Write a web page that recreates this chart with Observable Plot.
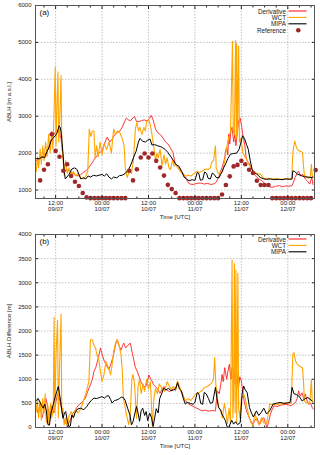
<!DOCTYPE html>
<html><head><meta charset="utf-8">
<script src="https://cdn.jsdelivr.net/npm/d3@7"></script>
<script src="https://cdn.jsdelivr.net/npm/@observablehq/plot@0.6"></script>
<style>
body{margin:0;background:#fff;font-family:"Liberation Sans",Arial,sans-serif;}
#wrap{position:relative;width:320px;height:455px;overflow:hidden;}
#wrap > svg{display:block;}
#leg{position:absolute;left:0;top:0;width:320px;height:455px;pointer-events:none;}
</style></head><body><div id="wrap"></div>
<script>
// ---- ticks / labels ----
const xDomain = [6.8, 78.9]; // hours since 00:00 09/07 UTC
const xTickHours = [12, 24, 36, 48, 60, 72];
const xTickLabels = ["12:00\n09/07", "00:00\n10/07", "12:00\n10/07", "00:00\n11/07", "12:00\n11/07", "00:00\n12/07"];
const xMinorHours = [9, 15, 18, 21, 27, 30, 33, 39, 42, 45, 51, 54, 57, 63, 66, 69, 75, 78];
const yTicksA = [1000, 2000, 3000, 4000, 5000, 6000];
const yTicksB = [0, 500, 1000, 1500, 2000, 2500, 3000, 3500, 4000];
const seriesNames = ["Derivative", "WCT", "MIPA", "Reference"];
const seriesColors = ["#ff2020", "#ffa500", "#000000", "#a0282a"];

// ---- panel (a): ABLH [m a.s.l.]  ([hour, value]) ----
const derivA = [[7.0,1800],[8.0,1850],[9.0,1900],[10.0,2100],[10.8,2350],[11.5,2500],[12.2,2600],[12.8,2650],[13.4,2400],[13.9,1900],[14.3,1500],[15.0,1550],[15.8,1500],[16.5,1450],[17.2,1400],[17.8,1380],[18.5,1420],[19.2,1480],[19.8,1520],[20.5,1600],[21.2,1700],[21.8,1800],[22.5,1900],[23.2,2000],[24.0,2060],[24.6,2250],[25.3,2430],[26.0,2300],[26.6,2380],[27.3,2500],[27.9,2560],[28.6,2600],[29.2,2700],[29.8,2850],[30.3,2950],[30.8,2900],[31.4,2880],[31.9,2950],[32.4,2990],[32.9,2860],[33.5,2850],[34.2,2880],[34.9,2900],[35.6,2870],[36.2,2940],[36.7,3020],[37.2,2900],[37.8,2650],[38.4,2550],[39.1,2500],[39.8,2400],[40.4,2300],[41.0,2250],[41.6,2150],[42.3,2020],[43.0,1680],[43.8,1600],[44.5,1500],[45.1,1430],[45.8,1300],[46.4,1180],[46.8,1160],[47.6,1150],[48.5,1180],[49.5,1190],[50.4,1160],[51.2,1180],[52.2,1150],[53.0,1170],[53.4,1200],[54.1,1340],[54.6,1500],[55.0,1610],[55.4,1750],[55.7,1880],[56.0,2100],[56.2,2150],[56.5,1950],[56.7,2510],[57.0,2250],[57.3,2600],[57.6,2700],[58.0,2300],[58.3,2500],[58.6,2200],[59.0,2600],[59.3,2870],[59.7,2950],[60.1,2700],[60.5,2420],[60.9,2200],[61.2,1900],[61.5,1790],[62.0,1720],[62.8,1550],[63.5,1400],[64.5,1300],[65.3,1250],[66.2,1160],[67.0,1100],[67.9,1070],[68.8,1100],[69.8,1120],[70.6,1090],[71.5,1110],[72.3,1100],[73.1,1120],[73.6,1250],[73.9,1340],[74.4,1450],[74.8,1510],[75.3,1380],[75.8,1430],[76.5,1300],[77.0,1250],[77.7,1160],[78.2,1340],[78.5,1150]];
const wctA = [[7.0,1500],[7.3,1900],[7.6,1600],[8.0,2100],[8.3,1700],[8.7,2200],[9.0,1800],[9.4,2300],[9.8,1900],[10.2,2500],[10.6,2000],[11.0,2600],[11.3,2100],[11.6,3100],[11.9,4330],[12.1,2200],[12.4,3500],[12.6,4200],[12.8,2300],[13.1,3000],[13.4,4100],[13.6,2200],[13.9,1900],[14.2,1400],[14.6,1800],[15.0,1450],[15.5,1600],[16.0,1400],[16.6,1500],[17.2,1380],[17.8,1450],[18.5,1330],[19.2,1300],[19.8,1380],[20.3,1500],[20.7,2650],[21.1,2450],[21.5,2600],[21.9,2600],[22.2,1880],[22.6,2200],[23.0,1900],[23.5,2300],[24.0,1950],[24.5,2250],[25.2,2100],[25.8,2300],[26.4,2000],[27.0,2650],[27.5,2500],[28.0,2600],[28.6,2550],[29.2,2400],[29.7,2200],[30.0,1600],[30.5,1340],[31.0,1500],[31.6,1450],[32.1,1800],[32.6,2650],[33.0,2830],[33.4,2600],[33.8,2700],[34.3,2500],[34.8,2700],[35.2,2600],[35.5,2850],[36.1,2900],[36.5,2750],[36.9,2500],[37.4,2150],[37.8,1800],[38.2,2000],[38.5,1870],[39.0,2100],[39.5,1650],[40.0,1950],[40.4,1700],[40.8,1870],[41.3,1600],[41.7,1550],[42.2,1800],[42.6,1650],[43.0,1700],[43.6,1600],[44.3,1500],[45.0,1420],[45.5,1370],[46.2,1400],[47.0,1380],[47.8,1450],[48.5,1500],[49.2,1480],[50.0,1520],[50.7,1570],[51.5,1560],[52.0,1600],[52.3,1750],[52.8,1800],[53.3,2200],[53.5,1600],[54.0,1450],[54.6,1450],[55.2,1500],[55.7,1800],[56.2,2150],[56.7,2400],[57.2,2600],[57.7,5030],[57.9,2600],[58.2,2500],[58.5,5050],[58.7,2400],[58.8,4960],[59.0,2500],[59.3,4900],[59.5,2300],[59.9,2400],[60.4,2000],[60.9,1900],[61.3,1850],[61.9,1700],[62.5,1600],[63.2,1500],[63.9,1450],[64.9,1430],[65.5,1350],[66.2,1300],[67.0,1320],[68.0,1300],[69.0,1310],[70.0,1290],[71.0,1300],[72.0,1310],[73.0,1300],[73.3,2000],[73.5,2150],[73.8,2330],[74.1,2200],[74.5,2100],[74.9,2060],[75.3,2050],[75.8,2020],[76.1,1600],[76.3,1400],[76.8,1350],[77.3,1320],[77.8,1350],[78.1,1700],[78.3,1400],[78.5,1350]];
const mipaA = [[7.0,1850],[7.8,1850],[8.5,1900],[9.2,1880],[9.8,2050],[10.3,2150],[10.8,2330],[11.3,2400],[11.9,2470],[12.4,2550],[12.9,2740],[13.2,2700],[13.5,2500],[13.9,2000],[14.2,1520],[14.5,1300],[14.9,1350],[15.5,1430],[16.2,1570],[16.9,1600],[17.5,1560],[18.0,1430],[18.5,1300],[19.2,1330],[19.8,1300],[20.4,1380],[21.0,1350],[21.8,1400],[22.5,1380],[23.2,1400],[24.0,1420],[24.6,1380],[25.2,1440],[25.8,1350],[26.4,1300],[27.0,1350],[27.8,1330],[28.5,1390],[29.2,1400],[30.0,1450],[30.8,1540],[31.5,1700],[32.2,1900],[32.8,2050],[33.4,2300],[33.8,2400],[34.5,2320],[35.2,2300],[35.8,2350],[36.4,2380],[36.9,2220],[37.6,2230],[38.3,2200],[39.0,2180],[39.6,2150],[40.3,2100],[41.0,2020],[41.8,1900],[42.5,1790],[43.0,1700],[43.9,1640],[44.6,1500],[45.2,1350],[45.8,1300],[46.5,1250],[47.3,1280],[48.0,1260],[48.6,1475],[49.0,1450],[49.4,1265],[50.0,1280],[50.5,1490],[51.0,1450],[51.4,1320],[52.0,1300],[52.5,1460],[53.0,1420],[53.5,1340],[54.2,1330],[54.8,1450],[55.4,1600],[55.9,1700],[56.5,1850],[57.2,1970],[58.0,1990],[58.8,2000],[59.4,2100],[60.0,2330],[60.3,2470],[60.8,2400],[61.3,2240],[61.8,2100],[62.3,1790],[62.8,1550],[63.2,1475],[64.0,1430],[64.9,1340],[65.8,1300],[66.5,1290],[67.5,1300],[68.5,1280],[69.5,1290],[70.5,1280],[71.5,1300],[72.5,1290],[73.1,1300],[73.3,1520],[73.8,1500],[74.5,1430],[75.5,1390],[76.3,1360],[77.2,1350],[78.0,1340],[78.5,1350]];
const refA = [[8,1260],[9,1550],[10,1700],[11,2510],[12,2060],[13,1900],[14,1520],[15,1700],[16,1380],[17,1225],[18,1110],[19,920],[20,800],[21,780],[22,780],[23,780],[24,780],[25,780],[26,780],[27,780],[28,780],[29,780],[30,780],[31,1520],[32,1260],[33,1560],[34,1880],[35,1990],[36,1880],[37,1990],[38,1790],[39,1610],[40,1390],[41,1140],[42,1025],[43,920],[44,780],[45,780],[46,780],[47,780],[48,780],[49,780],[50,780],[51,780],[52,780],[53,780],[54,780],[55,880],[56,1135],[57,1370],[58,1640],[59,1680],[60,1790],[61,1700],[62,1550],[63,1460],[64,1250],[65,1135],[66,1135],[67,1135],[68,780],[69,780],[70,780],[71,780],[72,780],[73,780],[74,780],[75,780],[76,780],[77,780],[78,780],[79.2,1540]];

// ---- panel (b): ABLH Difference [m] ----
const derivB = [[7.0,400],[7.5,300],[8.0,500],[8.5,200],[9.0,350],[9.5,600],[10.0,400],[10.5,250],[11.0,450],[11.5,300],[12.0,500],[12.5,700],[13.0,600],[13.5,400],[14.0,200],[14.5,100],[15.0,50],[15.5,100],[16.0,200],[16.5,300],[17.0,350],[17.5,420],[18.0,470],[18.8,520],[19.7,610],[20.3,750],[21.0,885],[21.5,1000],[21.9,1160],[22.4,1250],[22.8,1370],[23.2,1500],[23.6,1650],[24.0,1520],[24.6,1370],[25.2,1280],[25.75,1200],[26.2,1300],[26.8,1450],[27.2,1600],[27.5,1720],[27.9,1820],[28.4,1700],[28.9,1600],[29.3,1700],[29.6,1750],[30.1,1650],[30.6,1700],[31.3,1750],[31.8,1550],[32.2,1400],[32.6,1250],[33.1,1160],[33.6,1050],[34.0,955],[34.4,900],[34.8,850],[35.3,850],[35.7,950],[36.1,1090],[36.6,1000],[37.0,950],[37.3,885],[37.8,850],[38.3,800],[39.0,710],[39.5,800],[40.0,850],[40.6,780],[41.4,745],[42.0,780],[42.5,800],[43.0,830],[43.6,900],[44.2,800],[44.8,690],[45.5,560],[46.4,485],[47.2,450],[48.1,415],[49.0,380],[49.8,345],[50.6,360],[51.4,340],[52.3,350],[53.3,345],[53.8,760],[54.3,700],[54.7,900],[55.0,1100],[55.3,950],[55.7,1240],[56.2,1000],[56.5,1150],[56.9,1310],[57.3,1000],[57.6,1250],[58.0,1200],[58.4,900],[58.8,1150],[59.2,800],[59.6,1050],[60.0,965],[60.4,750],[60.7,550],[61.0,450],[61.3,345],[61.8,250],[62.2,170],[62.6,120],[63.0,70],[63.5,150],[64.0,200],[64.4,120],[64.8,70],[65.3,180],[65.8,200],[66.2,100],[66.6,0],[67.0,100],[67.5,275],[68.0,380],[68.4,450],[69.2,430],[70.0,460],[70.7,470],[71.4,480],[72.2,470],[72.8,450],[73.4,480],[74.0,520],[74.4,600],[74.8,760],[75.2,650],[75.7,720],[76.1,600],[76.5,690],[77.0,550],[77.4,480],[77.9,500],[78.3,415],[78.6,380]];
const wctB = [[7.0,330],[7.3,600],[7.6,200],[8.0,540],[8.3,150],[8.7,600],[9.0,300],[9.3,700],[9.6,100],[10.0,450],[10.3,50],[10.7,500],[11.0,200],[11.4,400],[11.6,2290],[11.8,300],[12.1,1500],[12.5,2220],[12.7,200],[13.0,1200],[13.4,2350],[13.6,300],[13.9,400],[14.2,55],[14.6,200],[15.0,30],[15.5,250],[16.0,330],[16.6,200],[17.2,380],[17.8,300],[18.6,400],[19.4,610],[20.0,750],[20.6,955],[21.0,1820],[21.5,1820],[21.9,1700],[22.3,1650],[22.7,1500],[23.1,1440],[23.5,1200],[24.0,955],[24.5,1100],[25.0,1370],[25.6,1250],[26.2,1090],[26.6,1300],[27.0,1580],[27.5,1750],[27.9,1820],[28.4,1700],[28.9,1510],[29.2,1200],[29.5,610],[30.0,400],[30.5,190],[30.9,60],[31.3,300],[31.7,1000],[32.0,1100],[32.4,900],[32.9,190],[33.3,850],[33.7,1000],[34.1,700],[34.6,900],[35.0,750],[35.5,1000],[36.0,800],[36.5,950],[37.0,20],[37.4,600],[37.8,800],[38.3,700],[38.8,900],[39.5,815],[40.2,750],[40.8,950],[41.2,885],[41.8,800],[42.5,850],[43.0,760],[43.5,965],[44.0,850],[44.6,700],[45.5,550],[46.2,600],[47.0,560],[48.1,690],[49.0,720],[49.8,760],[50.4,830],[51.2,850],[52.0,900],[52.4,930],[52.8,1000],[53.1,1450],[53.4,900],[53.8,600],[54.2,400],[54.7,345],[55.1,200],[55.6,500],[56.0,300],[56.4,80],[56.8,400],[57.2,100],[57.6,3470],[57.8,200],[58.0,600],[58.2,3400],[58.4,300],[58.6,3265],[58.8,100],[59.1,3195],[59.3,400],[59.6,200],[60.0,600],[60.6,690],[61.0,600],[61.5,400],[62.0,210],[62.5,100],[63.0,35],[63.5,300],[64.0,150],[64.6,50],[65.2,200],[65.8,100],[66.5,80],[67.0,300],[67.3,485],[68.0,480],[69.0,470],[70.0,490],[71.0,500],[72.2,520],[72.9,500],[73.3,1520],[73.6,1550],[74.0,1380],[74.4,1320],[74.8,1280],[75.3,1260],[75.8,1240],[76.1,900],[76.3,550],[76.8,520],[77.3,500],[77.7,520],[78.1,1000],[78.3,550],[78.5,520]];
const mipaB = [[7.0,560],[7.5,600],[8.0,520],[8.4,450],[8.8,400],[9.2,480],[9.6,350],[10.0,60],[10.4,50],[10.8,300],[11.3,450],[11.8,610],[12.3,750],[12.7,850],[13.0,700],[13.3,540],[13.6,350],[13.9,190],[14.3,300],[14.6,330],[15.0,150],[15.4,20],[15.8,30],[16.2,260],[16.6,200],[17.0,300],[17.6,380],[18.4,400],[19.3,370],[20.0,430],[20.6,500],[21.2,560],[21.9,610],[22.6,600],[23.3,620],[24.0,640],[24.6,610],[25.2,650],[25.7,660],[26.2,580],[26.6,505],[27.2,560],[27.8,570],[28.5,600],[29.0,630],[29.5,620],[30.0,560],[30.6,400],[31.2,260],[31.6,55],[32.0,120],[32.5,300],[32.9,435],[33.3,300],[33.7,130],[34.1,350],[34.5,400],[35.0,250],[35.4,330],[35.8,140],[36.3,300],[36.8,200],[37.2,20],[37.6,200],[38.0,390],[38.5,300],[38.9,600],[39.4,700],[39.9,815],[40.5,780],[41.2,815],[41.8,760],[42.5,780],[43.0,795],[43.5,930],[44.0,800],[44.5,760],[45.0,600],[45.5,485],[46.0,520],[46.8,500],[47.5,480],[48.0,520],[48.6,725],[49.0,700],[49.5,500],[50.0,480],[50.4,725],[50.9,700],[51.5,600],[52.0,500],[52.6,520],[53.3,830],[53.7,600],[54.1,415],[54.6,370],[55.0,275],[55.5,200],[55.9,140],[56.3,20],[56.7,0],[57.5,150],[58.0,70],[58.5,120],[59.0,60],[59.7,100],[60.2,700],[60.6,860],[61.0,780],[61.5,725],[62.1,415],[62.6,300],[63.1,220],[63.9,345],[64.5,250],[65.2,320],[65.8,400],[66.5,280],[67.3,345],[68.2,485],[69.0,500],[70.0,520],[71.0,500],[72.0,510],[72.6,520],[73.1,830],[73.6,700],[74.3,680],[75.0,640],[75.7,550],[76.5,600],[77.2,620],[78.3,550]];

const fmtX = d => xTickLabels[xTickHours.indexOf(d)];
const fmtY = d => String(d);
const X = d => d[0], Y = d => d[1];

function panel({height, marginTop, marginBottom, yDomain, yTicks, yLabel, tag, deriv, wct, mipa, ref}) {
  return Plot.plot({
    width: 320, height, marginTop, marginBottom, marginLeft: 35, marginRight: 6,
    style: {fontFamily: "'Liberation Sans', Arial, sans-serif", fontSize: "6px", background: "white", color: "#222"},
    x: {domain: xDomain},
    y: {domain: yDomain},
    marks: [
      Plot.gridX(xTickHours, {stroke: "#888", strokeOpacity: 0.5, strokeDasharray: "1.5,1.5"}),
      Plot.gridY(yTicks, {stroke: "#888", strokeOpacity: 0.5, strokeDasharray: "1.5,1.5"}),
      Plot.line(deriv, {x: X, y: Y, stroke: seriesColors[0], strokeWidth: 0.9}),
      Plot.line(wct, {x: X, y: Y, stroke: seriesColors[1], strokeWidth: 1.1}),
      Plot.line(mipa, {x: X, y: Y, stroke: seriesColors[2], strokeWidth: 1}),
      ref ? Plot.dot(ref, {x: X, y: Y, r: 2.3, fill: seriesColors[3], stroke: "none"}) : null,
      Plot.axisX(xTickHours, {anchor: "bottom", tickSize: -3, tickPadding: 6, tickFormat: fmtX, lineHeight: 0.9, label: "Time [UTC]", labelAnchor: "center", labelArrow: "none", labelOffset: 20}),
      Plot.axisX(xTickHours, {anchor: "top", tickSize: -3, tickFormat: () => "", label: null}),
      Plot.axisX(xMinorHours, {anchor: "bottom", tickSize: -1.5, tickFormat: () => "", label: null}),
      Plot.axisX(xMinorHours, {anchor: "top", tickSize: -1.5, tickFormat: () => "", label: null}),
      Plot.axisY(yTicks, {anchor: "left", tickSize: -3, tickPadding: 7, tickFormat: fmtY, label: yLabel, labelAnchor: "center", labelArrow: "none", labelOffset: 29}),
      Plot.axisY(yTicks, {anchor: "right", tickSize: -3, tickFormat: () => "", label: null}),
      Plot.frame({stroke: "#555", strokeWidth: 1}),
      Plot.text([tag], {frameAnchor: "top-left", dx: 4, dy: 4, fontSize: 8, lineAnchor: "top", textAnchor: "start", fill: "#111"})
    ]
  });
}

const wrap = document.getElementById("wrap");
wrap.appendChild(panel({height: 228, marginTop: 5, marginBottom: 30, yDomain: [770, 6000], yTicks: yTicksA,
  yLabel: "ABLH [m a.s.l.]", tag: "(a)", deriv: derivA, wct: wctA, mipa: mipaA, ref: refA}));
wrap.appendChild(panel({height: 227, marginTop: 6, marginBottom: 28, yDomain: [0, 4000], yTicks: yTicksB,
  yLabel: "ABLH Difference [m]", tag: "(b)", deriv: derivB, wct: wctB, mipa: mipaB, ref: null}));

// legends (inside top-right of each panel), drawn in an overlay svg
const NS = "http://www.w3.org/2000/svg";
const leg = document.createElementNS(NS, "svg");
leg.setAttribute("id", "leg"); leg.setAttribute("width", 320); leg.setAttribute("height", 455);
wrap.appendChild(leg);
function legend(top, n) {
  for (let i = 0; i < n; i++) {
    const cy = top + i * 6.4;
    const t = document.createElementNS(NS, "text");
    t.setAttribute("x", 286); t.setAttribute("y", cy); t.setAttribute("text-anchor", "end");
    t.setAttribute("dominant-baseline", "central"); t.setAttribute("font-size", "6.3");
    t.setAttribute("font-family", "'Liberation Sans', Arial, sans-serif"); t.setAttribute("fill", "#222");
    t.textContent = seriesNames[i];
    leg.appendChild(t);
    if (i < 3) {
      const l = document.createElementNS(NS, "line");
      l.setAttribute("x1", 288.5); l.setAttribute("x2", 306.5); l.setAttribute("y1", cy); l.setAttribute("y2", cy);
      l.setAttribute("stroke", seriesColors[i]); l.setAttribute("stroke-width", 1.1);
      leg.appendChild(l);
    } else {
      const c = document.createElementNS(NS, "circle");
      c.setAttribute("cx", 298.3); c.setAttribute("cy", cy); c.setAttribute("r", 2.3);
      c.setAttribute("fill", seriesColors[i]);
      leg.appendChild(c);
    }
  }
}
legend(11, 4);
legend(239, 3);
</script></body></html>
